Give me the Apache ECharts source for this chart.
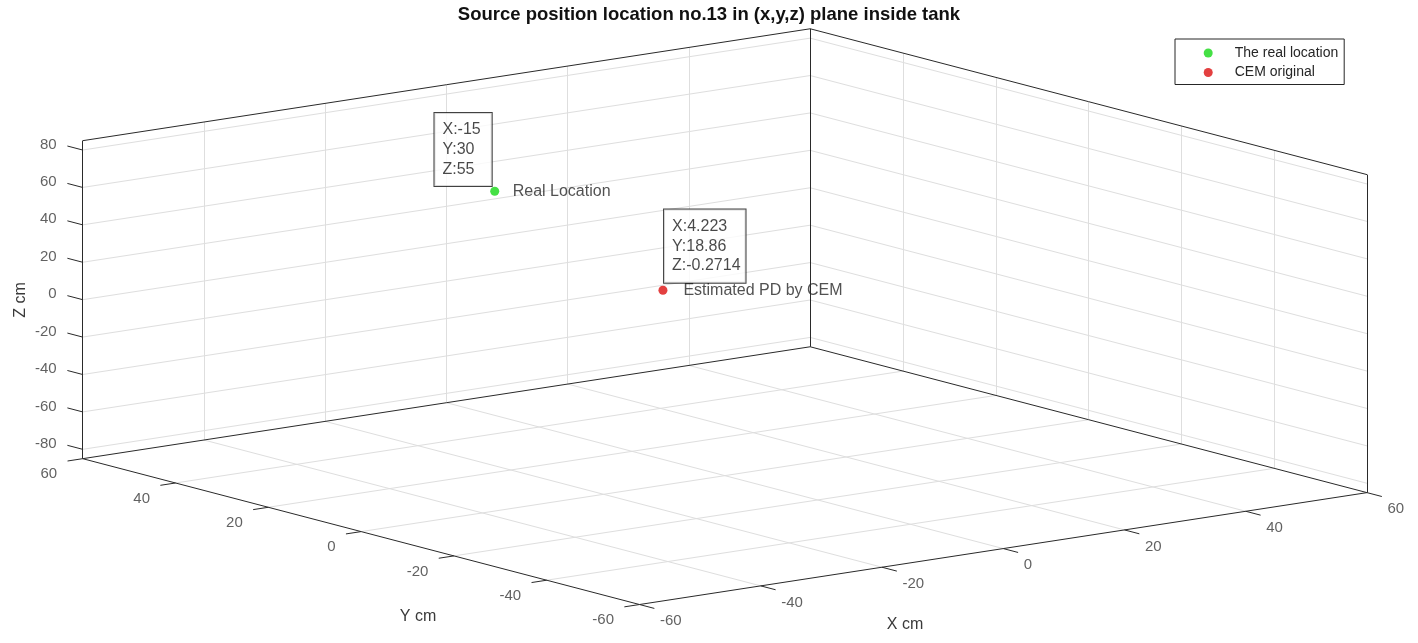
<!DOCTYPE html>
<html><head><meta charset="utf-8">
<script src="https://cdn.jsdelivr.net/npm/echarts@6/dist/echarts.min.js"></script>
<style>html,body{margin:0;padding:0;background:#fff}#c{width:1418px;height:643px}</style>
</head><body><div id="c"></div>
<script>
// ---------- data ----------
const chartTitle = 'Source position location no.13 in (x,y,z) plane inside tank';
const xTicks = [-60, -40, -20, 0, 20, 40, 60];
const yTicks = [-60, -40, -20, 0, 20, 40, 60];
const zTicks = [-80, -60, -40, -20, 0, 20, 40, 60, 80];
const xLim = [-60, 60];
const yLim = [-60, 60];
const zLim = [-85, 85];
const axisNames = ['X cm', 'Y cm', 'Z cm'];
const seriesNames = ['The real location', 'CEM original'];
const realPoint = [-15, 30, 55];
const cemPoint = [4.223, 18.86, -0.2714];
const pointNotes = ['Real Location', 'Estimated PD by CEM'];

// ---------- orthographic view (MATLAB-like camera) ----------
const O = [724.85, 316.65], EX = [6.0625, -0.9325], EY = [-4.64, -1.2154], EZ = [0, -1.8706];
function P(x, y, z) {
  return [O[0] + x * EX[0] + y * EY[0] + z * EZ[0], O[1] + x * EX[1] + y * EY[1] + z * EZ[1]];
}
function seg(a, b) { return { coords: [P(a[0], a[1], a[2]), P(b[0], b[1], b[2])] }; }

const [x0, x1] = xLim, [y0, y1] = yLim, [z0, z1] = zLim;
const inner = (t, lim) => t > lim[0] && t < lim[1];
const FONT = 'Liberation Sans, Arial, sans-serif';

// grid lines on the back walls and floor
const gridSegs = [];
xTicks.filter(t => inner(t, xLim)).forEach(x => {
  gridSegs.push(seg([x, y1, z0], [x, y1, z1]));
  gridSegs.push(seg([x, y0, z0], [x, y1, z0]));
});
yTicks.filter(t => inner(t, yLim)).forEach(y => {
  gridSegs.push(seg([x1, y, z0], [x1, y, z1]));
  gridSegs.push(seg([x0, y, z0], [x1, y, z0]));
});
zTicks.filter(t => inner(t, zLim)).forEach(z => {
  gridSegs.push(seg([x0, y1, z], [x1, y1, z]));
  gridSegs.push(seg([x1, y0, z], [x1, y1, z]));
});

// box edges
const boxSegs = [
  seg([x0, y1, z0], [x0, y1, z1]), seg([x1, y1, z0], [x1, y1, z1]), seg([x1, y0, z0], [x1, y0, z1]),
  seg([x0, y1, z1], [x1, y1, z1]), seg([x1, y1, z1], [x1, y0, z1]),
  seg([x0, y1, z0], [x1, y1, z0]), seg([x1, y1, z0], [x1, y0, z0]),
  seg([x0, y1, z0], [x0, y0, z0]), seg([x0, y0, z0], [x1, y0, z0])
];
// tick marks
const tickSegs = [];
xTicks.forEach(x => tickSegs.push(seg([x, y0, z0], [x, y0 - 3.2, z0])));
yTicks.forEach(y => tickSegs.push(seg([x0, y, z0], [x0 - 2.5, y, z0])));
zTicks.forEach(z => tickSegs.push(seg([x0, y1, z], [x0, y1 + 3.3, z])));

const tickFont = { fontSize: 15, color: '#3a3a3a', fontFamily: FONT };
function tickLabelSeries(pts, pos, align) {
  return {
    type: 'scatter', symbolSize: 1, silent: true, itemStyle: { color: 'rgba(0,0,0,0)' },
    data: pts,
    label: Object.assign({ show: true, formatter: '{b}', position: pos, align: align, verticalAlign: 'middle' }, tickFont),
    z: 3
  };
}
const lineSeries = (data, color, z) => ({
  type: 'lines', coordinateSystem: 'cartesian2d', silent: true, data: data,
  lineStyle: { color: color, width: 1, opacity: 1 }, z: z
});

const tipFmt = p => ['{t|X:' + p[0] + '}', '{t|Y:' + p[1] + '}', '{t|Z:' + p[2] + '}'].join('\n');

const chart = echarts.init(document.getElementById('c'));
chart.setOption({
  animation: false,
  backgroundColor: '#fff',
  title: {
    text: chartTitle, left: 'center', top: 0,
    textStyle: { fontSize: 18.5, fontWeight: 'bold', color: '#111', fontFamily: FONT }
  },
  legend: {
    data: seriesNames, orient: 'vertical', left: 1175, top: 39,
    padding: [6, 6, 4, 28.7], itemWidth: 43, itemHeight: 9, itemGap: 3.5,
    icon: 'circle', selectedMode: false,
    borderColor: '#262626', borderWidth: 1, backgroundColor: '#fff',
    textStyle: { fontSize: 14, color: '#262626', lineHeight: 16, fontFamily: FONT }
  },
  grid: { left: 0, right: 0, top: 0, bottom: 0 },
  xAxis: { type: 'value', min: 0, max: 1418, show: false },
  yAxis: { type: 'value', min: 0, max: 643, inverse: true, show: false },
  graphic: [
    { type: 'text', x: 905, y: 625, style: { text: axisNames[0], fontSize: 16, fill: '#3a3a3a', align: 'center', verticalAlign: 'middle', fontFamily: FONT } },
    { type: 'text', x: 418, y: 617, style: { text: axisNames[1], fontSize: 16, fill: '#3a3a3a', align: 'center', verticalAlign: 'middle', fontFamily: FONT } },
    { type: 'text', x: 21, y: 300, rotation: Math.PI / 2, style: { text: axisNames[2], fontSize: 16, fill: '#3a3a3a', align: 'center', verticalAlign: 'middle', fontFamily: FONT } }
  ],
  series: [
    lineSeries(gridSegs, '#dedede', 1),
    lineSeries(boxSegs, '#2a2a2a', 2),
    lineSeries(tickSegs, '#2a2a2a', 2),
    tickLabelSeries(xTicks.map(x => ({ value: P(x, y0, z0), name: String(x) })), [21, 17], 'left'),
    tickLabelSeries(yTicks.map(y => ({ value: P(x0, y, z0), name: String(y) })), [-25, 16], 'right'),
    tickLabelSeries(zTicks.map(z => ({ value: P(x0, y1, z), name: String(z) })), [-25.5, -5], 'right'),
    {
      name: seriesNames[0], type: 'scatter', symbol: 'circle', symbolSize: 9,
      itemStyle: { color: '#16d816' },
      data: [{ value: P(realPoint[0], realPoint[1], realPoint[2]) }],
      label: { show: true, formatter: pointNotes[0], position: 'right', distance: 13.5, fontSize: 16, color: '#262626', fontFamily: FONT },
      z: 6
    },
    {
      name: seriesNames[1], type: 'scatter', symbol: 'circle', symbolSize: 9,
      itemStyle: { color: '#dc1010' },
      data: [{ value: P(cemPoint[0], cemPoint[1], cemPoint[2]) }],
      label: { show: true, formatter: pointNotes[1], position: 'right', distance: 16, fontSize: 16, color: '#262626', fontFamily: FONT },
      z: 6
    },
    {
      type: 'scatter', symbolSize: 9, silent: true, itemStyle: { color: 'rgba(0,0,0,0)' },
      data: [
        { value: P(realPoint[0], realPoint[1], realPoint[2]), tip: tipFmt(realPoint),
          label: { position: [1.5, -0.8], align: 'right', verticalAlign: 'bottom', padding: [7, 11, 7, 8] } },
        { value: P(cemPoint[0], cemPoint[1], cemPoint[2]), tip: tipFmt(cemPoint),
          label: { position: [5.6, -3.1], align: 'left', verticalAlign: 'bottom', padding: [7, 5, 7, 8] } }
      ],
      label: {
        show: true, formatter: p => p.data.tip,
        backgroundColor: '#fff', borderColor: '#111', borderWidth: 1,
        fontSize: 16, lineHeight: 19.7, color: '#1a1a1a', fontFamily: FONT,
        rich: { t: { align: 'left', fontSize: 16, lineHeight: 19.7, color: '#1a1a1a', fontFamily: FONT } }
      },
      z: 7
    }
  ]
});
</script>
</body></html>
